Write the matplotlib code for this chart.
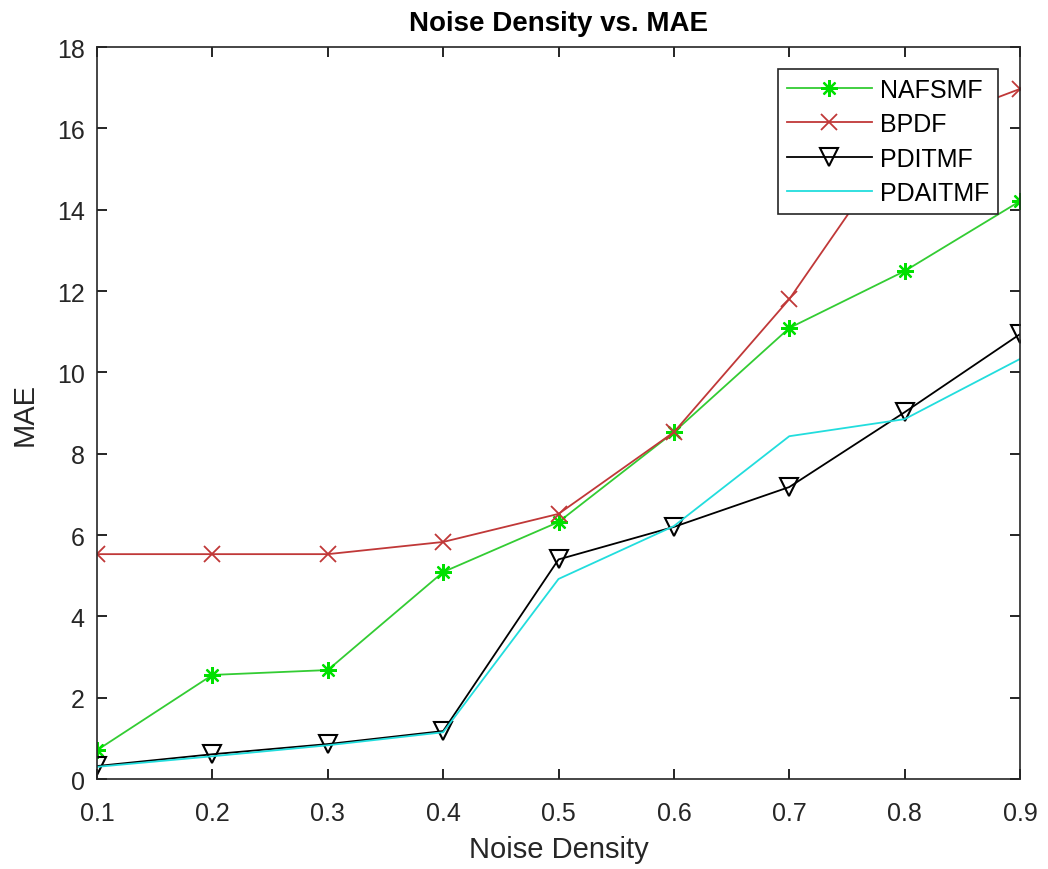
import matplotlib
matplotlib.use("Agg")
import matplotlib.pyplot as plt

plt.rcParams.update({
    "font.family": ["Liberation Sans", "DejaVu Sans"],
    "xtick.direction": "in",
    "ytick.direction": "in",
    "xtick.top": True,
    "ytick.right": True,
    "axes.linewidth": 1.2,
    "axes.edgecolor": "#262626",
})

noise = [0.1, 0.2, 0.3, 0.4, 0.5, 0.6, 0.7, 0.8, 0.9]
nafsmf = [0.71, 2.56, 2.68, 5.09, 6.32, 8.53, 11.09, 12.49, 14.21]
bpdf = [5.53, 5.53, 5.53, 5.83, 6.52, 8.53, 11.8, 15.9, 16.97]
pditmf = [0.32, 0.61, 0.86, 1.18, 5.4, 6.2, 7.18, 9.02, 10.94]
pdaitmf = [0.30, 0.56, 0.83, 1.15, 4.92, 6.22, 8.43, 8.85, 10.33]

fig = plt.figure(figsize=(10.48, 8.7), dpi=100)
ax = fig.add_axes([0.0926, 0.1034, 0.8807, 0.8414])

# MATLAB style asterisk marker (8 arms)
ast = (8, 2, 0)
ax.plot(noise, nafsmf, color='#33cc33', lw=1.3, marker=ast, ms=12, mew=1.6,
        mec='#00e000', label='NAFSMF')
ax.plot(noise, bpdf, color='#c03838', lw=1.3, marker='x', ms=11,
        mew=1.3, label='BPDF')
ax.plot(noise, pditmf, color='black', lw=1.3, marker='v', ms=13,
        mfc='none', mew=1.5, label='PDITMF')
ax.plot(noise, pdaitmf, color='#22dddd', lw=1.3, label='PDAITMF')

ax.set_xlim(0.1, 0.9)
ax.set_ylim(0, 18)
ax.set_xticks(noise)
ax.set_xticklabels(['0.1', '0.2', '0.3', '0.4', '0.5', '0.6', '0.7', '0.8', '0.9'])
ax.set_yticks(range(0, 19, 2))
ax.tick_params(labelsize=18, labelcolor='#262626', length=7, width=1.2)
ax.tick_params(axis='x', pad=16)
ax.tick_params(axis='y', pad=9)

ax.set_xlabel('Noise Density', fontsize=21, color='#262626', labelpad=7)
ax.set_ylabel('MAE', fontsize=21, color='#262626', labelpad=13)
ax.set_title('Noise Density vs. MAE', fontsize=20, fontweight='bold', pad=12)

leg = ax.legend(loc='upper right', bbox_to_anchor=(0.976, 0.97), borderaxespad=0,
                fontsize=18, handlelength=3.4, handletextpad=0.32,
                borderpad=0.35, labelspacing=0.42,
                fancybox=False, framealpha=1, edgecolor='#262626')
leg.get_frame().set_linewidth(1.2)

plt.savefig('out.png')
